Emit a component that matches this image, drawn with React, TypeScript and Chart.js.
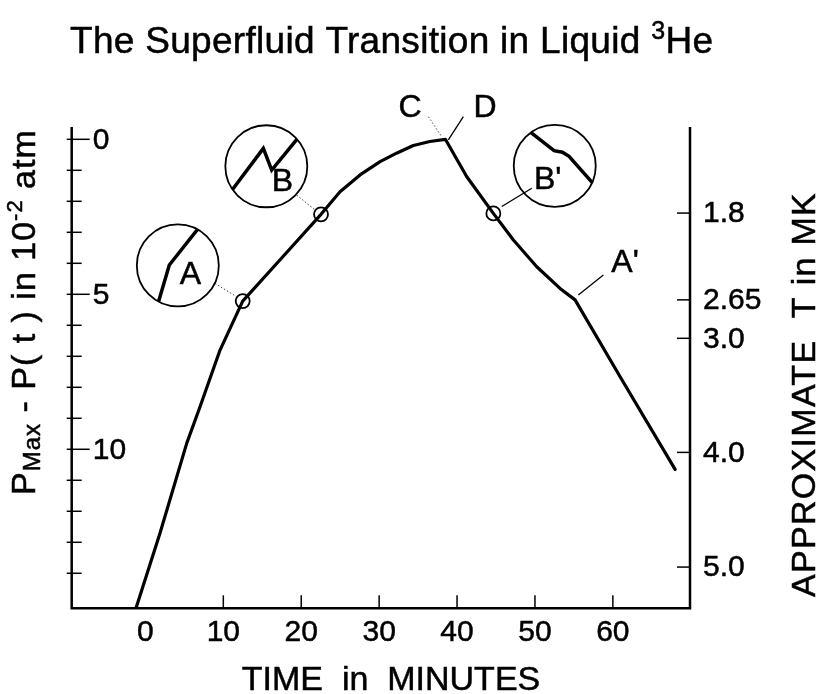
import React, { useEffect, useRef } from "react";
import { Chart, registerables } from "chart.js";

Chart.register(...registerables);

// ---- data (time in minutes, P_max - P(t) in 1e-2 atm) ----
const timeMinutes = [-1.21, 1.87, 5.3, 7.01, 9.58, 12.49, 17.52, 22.54, 24.98, 27.55, 30.12, 32.3, 34.39, 36.5, 38.5, 41.25, 44.66, 47.23, 50.23, 53.22, 55.15, 60.93, 67.99];
const pressureDrop = [15.13, 12.71, 9.81, 8.63, 6.8, 5.22, 3.82, 2.42, 1.69, 1.15, 0.72, 0.44, 0.2, 0.07, 0.0, 1.21, 2.39, 3.25, 4.11, 4.81, 5.18, 7.66, 10.65];

const markerTimes = [12.49, 22.54, 44.66];
const markerPressures = [5.22, 2.42, 2.39];

// ---- ticks ----
const xTickValues = [0, 10, 20, 30, 40, 50, 60];
const xTickLabels = ["0", "10", "20", "30", "40", "50", "60"];
const xTickMarkValues = [10, 20, 30, 40, 50, 60];
const leftTickValues = [0, 1, 2, 3, 4, 5, 6, 7, 8, 9, 10, 11, 12, 13, 14];
const leftLabeledValues = [0, 5, 10];
const leftTickLabels = ["0", "5", "10"];
const rightTickValues = [2.38, 5.18, 6.42, 10.1, 13.8];
const rightTickLabels = ["1.8", "2.65", "3.0", "4.0", "5.0"];

// ---- annotations (data coordinates) ----
const insetNames = ["A", "B", "B'"];
const insetTimes = [4.16, 15.52, 52.54];
const insetPressures = [4.07, 0.87, 0.86];
const insetShapes: number[][][] = [
  [[-21, 42], [-8.5, -0.5], [26, -44]],
  [[-37, 27.5], [-3, -17.9], [5.4, 3.8], [33, -30]],
  [[-36, -43], [-0.7, -15.3], [7.7, -13.7], [14.3, -9.7], [40, 19.5]],
];
const insetLabelOffsets = [[12.5, 10], [16, 16], [-7, 14]];

const leaderStarts = [[8.93, 4.65], [19.42, 1.8], [36.32, -0.73], [40.81, -0.73], [45.74, 2.17], [58.78, 4.38]];
const leaderEnds = [[11.72, 5.08], [21.77, 2.28], [38.04, -0.08], [38.88, 0.02], [49.59, 1.58], [55.57, 5.02]];
const leaderDotted = [true, true, true, false, false, false];

const pointLabels = ["C", "D", "A'"];
const pointLabelTimes = [33.97, 43.6, 61.57];
const pointLabelPressures = [-1.01, -1.01, 3.99];

const FONT = "'Liberation Sans', Arial, Helvetica, sans-serif";

function heavyText(ctx: any, text: string, x: number, y: number) {
  ctx.fillText(text, x, y);
  ctx.save();
  ctx.lineWidth = 0.5;
  ctx.strokeStyle = ctx.fillStyle;
  ctx.setLineDash([]);
  ctx.strokeText(text, x, y);
  ctx.restore();
}

const drawPlugin = {
  id: "superfluidDecor",
  beforeDraw(chart: any) {
    const { ctx, width, height } = chart;
    ctx.save();
    ctx.fillStyle = "#fff";
    ctx.fillRect(0, 0, width, height);
    ctx.restore();
  },
  afterDatasetsDraw(chart: any) {
    const { ctx, chartArea } = chart;
    const xs = chart.scales.x;
    const ys = chart.scales.y;
    const L = chartArea.left, R = chartArea.right, T = chartArea.top, B = chartArea.bottom;
    const line = (x1: number, y1: number, x2: number, y2: number) => {
      ctx.beginPath();
      ctx.moveTo(x1, y1);
      ctx.lineTo(x2, y2);
      ctx.stroke();
    };
    ctx.save();
    ctx.strokeStyle = "#000";
    ctx.fillStyle = "#000";

    // axes frame (open top)
    ctx.lineWidth = 2.5;
    ctx.lineCap = "square";
    ctx.beginPath();
    ctx.moveTo(L, T);
    ctx.lineTo(L, B);
    ctx.lineTo(R, B);
    ctx.lineTo(R, T);
    ctx.stroke();
    ctx.lineCap = "butt";

    // left ticks
    ctx.lineWidth = 1.5;
    leftTickValues.forEach((v) => {
      const py = ys.getPixelForValue(v);
      const major = leftLabeledValues.includes(v);
      line(L - 5, py, L + (major ? 18 : 10), py);
    });
    ctx.font = `30px ${FONT}`;
    ctx.textAlign = "left";
    ctx.textBaseline = "middle";
    leftLabeledValues.forEach((v, i) => {
      heavyText(ctx, leftTickLabels[i], L + 21, ys.getPixelForValue(v) + 1);
    });

    // right ticks
    rightTickValues.forEach((v, i) => {
      const py = ys.getPixelForValue(v);
      line(R - 13, py, R, py);
      heavyText(ctx, rightTickLabels[i], R + 13, py + 1);
    });

    // bottom ticks
    xTickMarkValues.forEach((v) => {
      const px = xs.getPixelForValue(v);
      line(px, B, px, B - 13);
    });
    ctx.textAlign = "center";
    ctx.textBaseline = "alphabetic";
    xTickValues.forEach((v, i) => {
      heavyText(ctx, xTickLabels[i], xs.getPixelForValue(v), B + 33);
    });

    // x title
    ctx.font = `34px ${FONT}`;
    heavyText(ctx, "TIME  in  MINUTES", 391, 690);

    // right title
    ctx.save();
    ctx.translate(815, 597);
    ctx.rotate(-Math.PI / 2);
    ctx.textAlign = "left";
    ctx.font = `34px ${FONT}`;
    ctx.letterSpacing = "1.3px";
    heavyText(ctx, "APPROXIMATE  T in MK", 0, 0);
    ctx.restore();

    // left title with sub/superscript
    ctx.save();
    ctx.translate(35, 495);
    ctx.rotate(-Math.PI / 2);
    ctx.textAlign = "left";
    ctx.letterSpacing = "1px";
    let cx = 0;
    const seg = (text: string, size: number, dy: number) => {
      ctx.font = `${size}px ${FONT}`;
      heavyText(ctx, text, cx, dy);
      cx += ctx.measureText(text).width;
    };
    seg("P", 34, 0);
    seg("Max", 24, 5);
    seg(" - P( t ) in 10", 34, 0);
    seg("-2", 22, -13);
    seg(" atm", 34, 0);
    ctx.restore();

    // title
    ctx.save();
    ctx.textAlign = "left";
    ctx.letterSpacing = "0.3px";
    let tx = 70;
    const tseg = (text: string, size: number, dy: number) => {
      ctx.font = `${size}px ${FONT}`;
      heavyText(ctx, text, tx, 53 + dy);
      tx += ctx.measureText(text).width;
    };
    tseg("The Superfluid Transition in Liquid ", 37, 0);
    tseg("3", 25, -14);
    tseg("He", 37, 0);
    ctx.restore();

    // leader lines
    leaderStarts.forEach((s, i) => {
      const e = leaderEnds[i];
      ctx.save();
      if (leaderDotted[i]) {
        ctx.setLineDash([1.5, 2]);
        ctx.lineWidth = 1;
        ctx.strokeStyle = "#444";
      } else {
        ctx.lineWidth = 1.3;
      }
      line(xs.getPixelForValue(s[0]), ys.getPixelForValue(s[1]), xs.getPixelForValue(e[0]), ys.getPixelForValue(e[1]));
      ctx.restore();
    });

    // insets
    insetNames.forEach((name, i) => {
      const cxp = xs.getPixelForValue(insetTimes[i]);
      const cyp = ys.getPixelForValue(insetPressures[i]);
      const r = 41;
      ctx.save();
      ctx.lineWidth = 1.8;
      ctx.beginPath();
      ctx.arc(cxp, cyp, r, 0, Math.PI * 2);
      ctx.stroke();
      ctx.clip();
      ctx.lineWidth = 3.5;
      ctx.lineJoin = "miter";
      ctx.beginPath();
      insetShapes[i].forEach((p, j) => {
        if (j === 0) ctx.moveTo(cxp + p[0], cyp + p[1]);
        else ctx.lineTo(cxp + p[0], cyp + p[1]);
      });
      ctx.stroke();
      ctx.restore();
      ctx.font = `32px ${FONT}`;
      ctx.textAlign = "center";
      ctx.textBaseline = "middle";
      heavyText(ctx, name, cxp + insetLabelOffsets[i][0], cyp + insetLabelOffsets[i][1]);
    });

    // point labels C, D, A'
    ctx.font = `32px ${FONT}`;
    ctx.textAlign = "center";
    ctx.textBaseline = "middle";
    pointLabels.forEach((t, i) => {
      heavyText(ctx, t, xs.getPixelForValue(pointLabelTimes[i]), ys.getPixelForValue(pointLabelPressures[i]));
    });

    ctx.restore();
  },
};

export default function App() {
  const ref = useRef<HTMLCanvasElement | null>(null);
  useEffect(() => {
    document.body.style.margin = "0";
    if (!ref.current) return;
    const chart = new Chart(ref.current, {
      type: "scatter",
      data: {
        datasets: [
          {
            data: timeMinutes.map((t, i) => ({ x: t, y: pressureDrop[i] })),
            showLine: true,
            borderColor: "#000",
            borderWidth: 3.2,
            pointRadius: 0,
            tension: 0,
            fill: false,
            borderJoinStyle: "round",
            borderCapStyle: "round",
          } as any,
          {
            data: markerTimes.map((t, i) => ({ x: t, y: markerPressures[i] })),
            showLine: false,
            pointRadius: 7,
            pointBorderWidth: 1.8,
            pointBackgroundColor: "rgba(0,0,0,0)",
            pointBorderColor: "#000",
          } as any,
        ],
      },
      options: {
        responsive: false,
        animation: false,
        layout: { padding: { left: 71.7, right: 129, top: 128.3, bottom: 85.7 } },
        plugins: { legend: { display: false }, tooltip: { enabled: false }, title: { display: false } },
        scales: {
          x: { type: "linear", min: -9.46, max: 69.9, display: false },
          y: { type: "linear", reverse: true, min: -0.355, max: 15.13, display: false },
        },
      },
      plugins: [drawPlugin],
    });
    return () => chart.destroy();
  }, []);
  return (
    <div style={{ width: 819, height: 694 }}>
      <canvas ref={ref} width={819} height={694} style={{ display: "block" }} />
    </div>
  );
}
